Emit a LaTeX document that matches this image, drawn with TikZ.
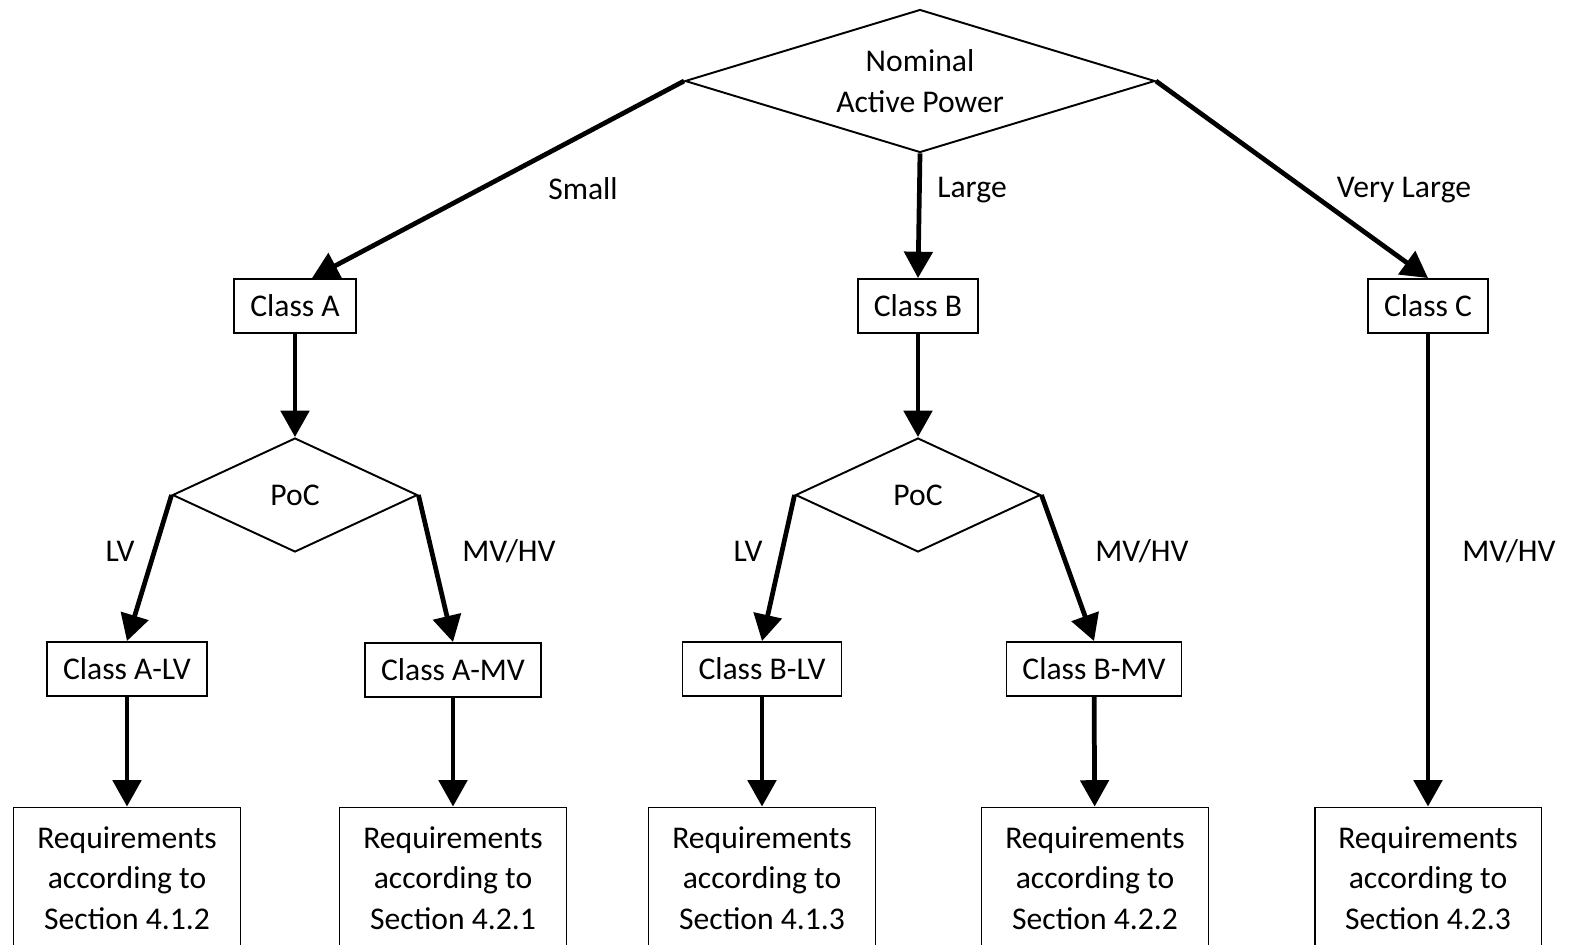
\documentclass[tikz,border=0pt]{standalone}
\usepackage{fontspec}
\setmainfont{Carlito}
\usetikzlibrary{arrows.meta,shapes.geometric}
\tikzset{cls/.style={draw,line width=1.1pt,inner xsep=0.32cm,minimum height=1.08cm},
 req/.style={cls,align=center,minimum width=4.54cm,minimum height=2.82cm},
 dec/.style={draw,diamond,line width=1.1pt,inner sep=0pt,align=center},
 arr/.style={-{Triangle[length=15pt,width=16pt]},line width=2.7pt},
 lbl/.style={inner sep=0pt},
 every node/.style={font=\fontsize{18}{23}\selectfont}}

\begin{document}
\begin{tikzpicture}[x=0.02cm,y=-0.02cm]
\useasboundingbox (0,0) rectangle (1569,944);
\node[dec,aspect=3.3,minimum width=9.4cm,minimum height=2.86cm] (nap) at (920,81) {Nominal\\Active Power};
\node[cls] (ca) at (295,306) {Class A};
\node[cls] (cb) at (918,306) {Class B};
\node[cls] (cc) at (1428,306) {Class C};
\node[dec,aspect=2.15,minimum width=4.9cm,minimum height=2.28cm] (poca) at (295,495) {PoC};
\node[dec,aspect=2.15,minimum width=4.9cm,minimum height=2.28cm] (pocb) at (918,495) {PoC};
\node[cls] (alv) at (127,669) {Class A-LV};
\node[cls] (amv) at (453,670) {Class A-MV};
\node[cls] (blv) at (762,669) {Class B-LV};
\node[cls] (bmv) at (1094,669) {Class B-MV};
\node[req] (ralv) at (127,878) {Requirements\\according to\\Section 4.1.2};
\node[req] (ramv) at (453,878) {Requirements\\according to\\Section 4.2.1};
\node[req] (rblv) at (762,878) {Requirements\\according to\\Section 4.1.3};
\node[req] (rbmv) at (1095,878) {Requirements\\according to\\Section 4.2.2};
\node[req] (rc) at (1428,878) {Requirements\\according to\\Section 4.2.3};
\draw[arr] (nap.west) -- ([xshift=0.34cm]ca.north);
\draw[arr] (nap.south) -- (cb.north);
\draw[arr] (nap.east) -- (cc.north);
\draw[arr] (ca) -- (poca);
\draw[arr] (cb) -- (pocb);
\draw[arr] (poca.west) -- (alv.north);
\draw[arr] (poca.east) -- (amv.north);
\draw[arr] (pocb.west) -- (blv.north);
\draw[arr] (pocb.east) -- (bmv.north);
\draw[arr] (alv) -- (ralv);
\draw[arr] (amv) -- (ramv);
\draw[arr] (blv) -- (rblv);
\draw[arr] (bmv) -- (rbmv);
\draw[arr] (cc) -- (rc);
\node[lbl] (ls) at (583,189) {Small};
\node[lbl] (ll) at (972,190) {Large};
\node[lbl] (lvl) at (1404,190) {Very Large};
\node[lbl] (lalv) at (120,551) {LV};
\node[lbl] (lamv) at (509,551) {MV/HV};
\node[lbl] (lblv) at (748,551) {LV};
\node[lbl] (lbmv) at (1142,551) {MV/HV};
\node[lbl] (lcmv) at (1509,551) {MV/HV};
\end{tikzpicture}
\end{document}
